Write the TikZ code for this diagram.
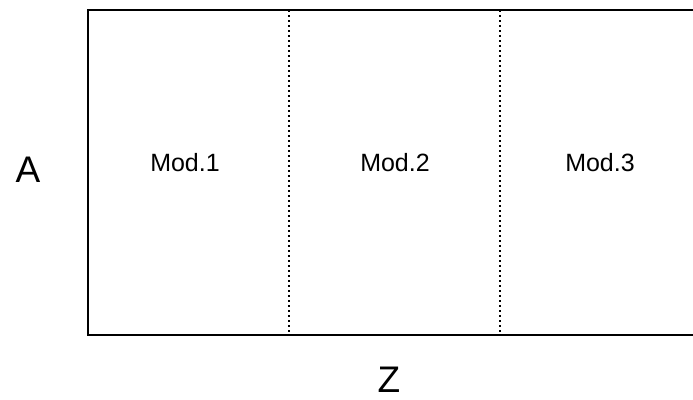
\documentclass[tikz,border=0pt]{standalone}
\usepackage{fontspec}
\setmainfont{Liberation Sans}
\begin{document}
\begin{tikzpicture}[x=1pt,y=-1pt,
  solidline/.style={line width=2.4pt},
  dotline/.style={line width=2.6pt,dash pattern=on 2.4pt off 2.6pt},
  modlabel/.style={font=\fontsize{25}{30}\selectfont},
  axislabel/.style={font=\fontsize{37}{44}\selectfont}]
\useasboundingbox (0,0) rectangle (693,399);
\coordinate (tl) at (88,10);
\coordinate (tr) at (693,10);
\coordinate (bl) at (88,335);
\coordinate (br) at (693,335);
\coordinate (d1t) at (289,10);
\coordinate (d1b) at (289,335);
\coordinate (d2t) at (500,10);
\coordinate (d2b) at (500,335);
\draw[solidline] (tr) -- (tl) -- (bl) -- (br);
\draw[dotline] (d1t) -- (d1b);
\draw[dotline] (d2t) -- (d2b);
\node[modlabel] (m1) at (185,163) {Mod.1};
\node[modlabel] (m2) at (395,163) {Mod.2};
\node[modlabel] (m3) at (600,163) {Mod.3};
\node[axislabel] (a) at (28,170) {A};
\node[axislabel] (z) at (389,380) {Z};
\end{tikzpicture}
\end{document}
